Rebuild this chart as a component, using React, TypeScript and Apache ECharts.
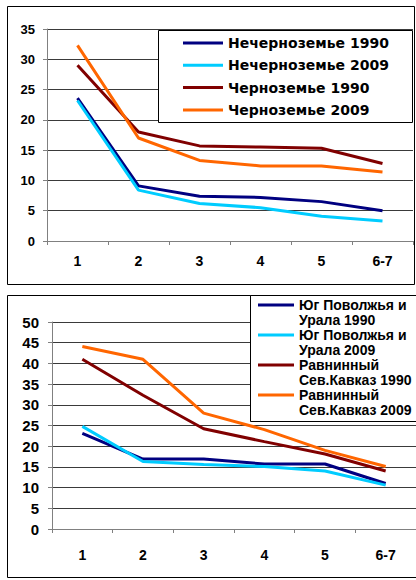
import React, { useEffect, useRef } from "react";
import * as echarts from "echarts";

const categories = ["1", "2", "3", "4", "5", "6-7"];

const topNames = ["Нечерноземье 1990", "Нечерноземье 2009", "Черноземье 1990", "Черноземье 2009"];
const nonChernozem1990 = [23.6, 9.1, 7.4, 7.2, 6.5, 5.0];
const nonChernozem2009 = [23.2, 8.4, 6.2, 5.5, 4.1, 3.3];
const chernozem1990 = [29.0, 18.0, 15.7, 15.5, 15.3, 12.8];
const chernozem2009 = [32.3, 17.0, 13.3, 12.4, 12.4, 11.4];
const topMax = 35;

const bottomNames = [
  "Юг Поволжья и Урала 1990",
  "Юг Поволжья и Урала 2009",
  "Равнинный Сев.Кавказ 1990",
  "Равнинный Сев.Кавказ 2009",
];
const bottomLegendLines: Record<string, string[]> = {
  "Юг Поволжья и Урала 1990": ["Юг Поволжья и", "Урала 1990"],
  "Юг Поволжья и Урала 2009": ["Юг Поволжья и", "Урала 2009"],
  "Равнинный Сев.Кавказ 1990": ["Равнинный", "Сев.Кавказ 1990"],
  "Равнинный Сев.Кавказ 2009": ["Равнинный", "Сев.Кавказ 2009"],
};
const south1990 = [23.1, 16.9, 16.9, 15.7, 15.7, 11.0];
const south2009 = [24.8, 16.3, 15.6, 15.1, 14.0, 10.6];
const caucasus1990 = [41.0, 32.3, 24.2, 21.1, 18.1, 14.0];
const caucasus2009 = [44.1, 41.0, 28.0, 24.0, 19.0, 15.1];
const bottomMax = 50;

const colors = ["#000080", "#00CCFF", "#800000", "#FF6600"];
const FONT = "'Liberation Sans', Arial, sans-serif";
const WIDE = "'DejaVu Sans', Verdana, sans-serif";

// legend icon: a 3px bar at the top of an 18px-high box (so it lines up with the first text line)
const topBarIcon = "path://M0,0H36V3H0Z M0,17.99H0.01V18H0Z";

export default function App() {
  const ref = useRef<HTMLDivElement>(null);
  useEffect(() => {
    if (!ref.current) return;
    const chart = echarts.init(ref.current, null, { renderer: "svg" });

    const mkSeries = (name: string, data: number[], idx: number, ci: number) => ({
      type: "line",
      name,
      data,
      xAxisIndex: idx,
      yAxisIndex: idx,
      symbol: "none",
      showSymbol: false,
      lineStyle: { color: colors[ci], width: 3 },
      itemStyle: { color: colors[ci] },
    });

    const xAxisBase = (gridIndex: number, margin: number) => ({
      type: "category",
      gridIndex,
      data: categories,
      boundaryGap: true,
      axisLine: { lineStyle: { color: "#808080", width: 1 } },
      axisTick: { show: true, length: 4, lineStyle: { color: "#808080" } },
      axisLabel: { fontFamily: FONT, fontWeight: "bold", fontSize: 14, color: "#000", margin },
      splitLine: { show: false },
    });
    const yAxisBase = (gridIndex: number, max: number, fontSize: number, margin: number) => ({
      type: "value",
      gridIndex,
      min: 0,
      max,
      interval: 5,
      axisLine: { show: true, lineStyle: { color: "#808080", width: 1 } },
      axisTick: { show: true, length: 4, lineStyle: { color: "#808080" } },
      axisLabel: { fontFamily: FONT, fontWeight: "bold", fontSize, color: "#000", margin },
      splitLine: { show: true, lineStyle: { color: "#3a3a3a", width: 1 } },
    });

    chart.setOption({
      animation: false,
      backgroundColor: "#fff",
      textStyle: { fontFamily: FONT },
      grid: [
        { left: 47, top: 29, width: 366, height: 212 },
        { left: 52, top: 322, width: 364, height: 207 },
      ],
      xAxis: [xAxisBase(0, 13), xAxisBase(1, 19)],
      yAxis: [yAxisBase(0, topMax, 13, 12), yAxisBase(1, bottomMax, 15, 13)],
      graphic: [
        {
          type: "rect",
          z: 0,
          shape: { x: 7.5, y: 6.5, width: 407, height: 278 },
          style: { fill: "none", stroke: "#000", lineWidth: 1 },
        },
        {
          type: "rect",
          z: 0,
          shape: { x: 7.5, y: 295.5, width: 420, height: 282 },
          style: { fill: "none", stroke: "#000", lineWidth: 1 },
        },
        {
          type: "rect",
          z: 3,
          shape: { x: 158.5, y: 30.5, width: 254, height: 92 },
          style: { fill: "#fff", stroke: "#000", lineWidth: 1 },
        },
        {
          type: "rect",
          z: 3,
          shape: { x: 250.5, y: 295.5, width: 200, height: 126 },
          style: { fill: "#fff", stroke: "#000", lineWidth: 1 },
        },
      ],
      legend: [
        {
          data: topNames,
          orient: "vertical",
          left: 183,
          top: 32,
          padding: 0,
          itemGap: 0.3,
          itemWidth: 40,
          itemHeight: 3,
          icon: "rect",
          z: 5,
          selectedMode: false,
          textStyle: { fontFamily: WIDE, fontWeight: "bold", fontSize: 14, color: "#000", lineHeight: 22 },
        },
        {
          data: bottomNames,
          orient: "vertical",
          left: 258,
          top: 297.5,
          padding: 0,
          itemGap: 0,
          itemWidth: 36,
          itemHeight: 18,
          icon: topBarIcon,
          z: 5,
          selectedMode: false,
          formatter: (n: string) => (bottomLegendLines[n] || [n]).join("\n"),
          textStyle: { fontFamily: FONT, fontWeight: "bold", fontSize: 14, color: "#000", lineHeight: 15 },
        },
      ],
      series: [
        mkSeries(topNames[0], nonChernozem1990, 0, 0),
        mkSeries(topNames[1], nonChernozem2009, 0, 1),
        mkSeries(topNames[2], chernozem1990, 0, 2),
        mkSeries(topNames[3], chernozem2009, 0, 3),
        mkSeries(bottomNames[0], south1990, 1, 0),
        mkSeries(bottomNames[1], south2009, 1, 1),
        mkSeries(bottomNames[2], caucasus1990, 1, 2),
        mkSeries(bottomNames[3], caucasus2009, 1, 3),
      ],
    });
    return () => chart.dispose();
  }, []);
  return (
    <div
      ref={ref}
      style={{ position: "fixed", left: 0, top: 0, width: 416, height: 580, background: "#fff" }}
    />
  );
}
